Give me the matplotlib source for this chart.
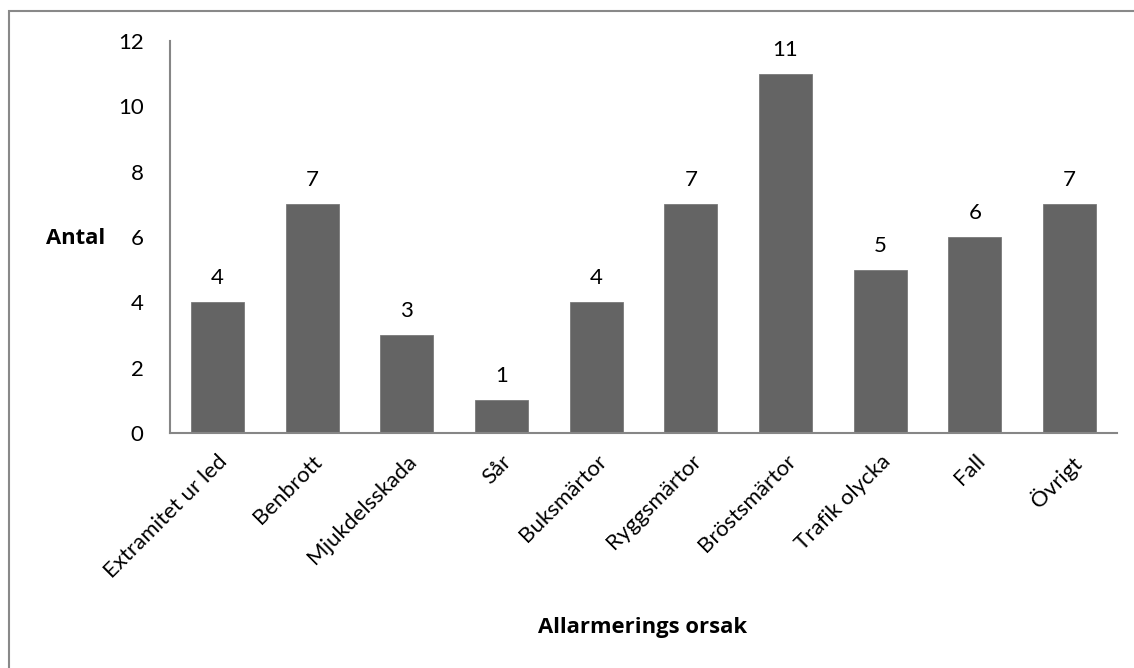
import matplotlib.pyplot as plt
from matplotlib.patches import Rectangle

# Orsaker och antal larm
orsaker = ["Extramitet ur led", "Benbrott", "Mjukdelsskada", "Sår", "Buksmärtor",
           "Ryggsmärtor", "Bröstsmärtor", "Trafik olycka", "Fall", "Övrigt"]
antal = [4, 7, 3, 1, 4, 7, 11, 5, 6, 7]
yticks = [0, 2, 4, 6, 8, 10, 12]

plt.rcParams['font.family'] = ['Lato', 'DejaVu Sans']
fs = 16
fet = ['Open Sans', 'DejaVu Sans']  # fetstil for axeltitlar

fig = plt.figure(figsize=(11.34, 6.68), dpi=100)
ax = fig.add_axes([170 / 1134, 1 - 433 / 668, (1117 - 170) / 1134, (433 - 41) / 668])

x = range(len(orsaker))
staplar = ax.bar(x, antal, width=0.56, color='#646464', edgecolor='#7a7a7a', linewidth=0.6)

for i, v in enumerate(antal):
    ax.annotate(str(v), (i, v), xytext=(0, 10), textcoords='offset points',
                ha='center', va='bottom', fontsize=fs)

ax.set_xlim(-0.5, len(orsaker) - 0.5)
ax.set_ylim(0, 12)
ax.set_yticks(yticks)
ax.set_xticks(list(x))
ax.set_xticklabels(orsaker, rotation=45, ha='right', rotation_mode='anchor', fontsize=fs)
ax.tick_params(axis='y', length=0, pad=19, labelsize=fs)
ax.tick_params(axis='x', length=0, pad=13)

for s in ['top', 'right']:
    ax.spines[s].set_visible(False)
for s in ['left', 'bottom']:
    ax.spines[s].set_color('#868686')
    ax.spines[s].set_linewidth(1.5)

fig.text(105 / 1134, 1 - 238 / 668, "Antal", ha='right', va='center',
         fontsize=15.8, fontweight='bold', family=fet)
fig.text(643 / 1134, 1 - 628 / 668, "Allarmerings orsak", ha='center', va='center',
         fontsize=15.8, fontweight='bold', family=fet)

# ram runt diagrammet
fig.patches.append(Rectangle((8.5 / 1134, -0.1), 1.2, 1 - 11.5 / 668 + 0.1,
                             transform=fig.transFigure, fill=False,
                             edgecolor='#898989', linewidth=1.5))

fig.savefig("out.png", dpi=100)
